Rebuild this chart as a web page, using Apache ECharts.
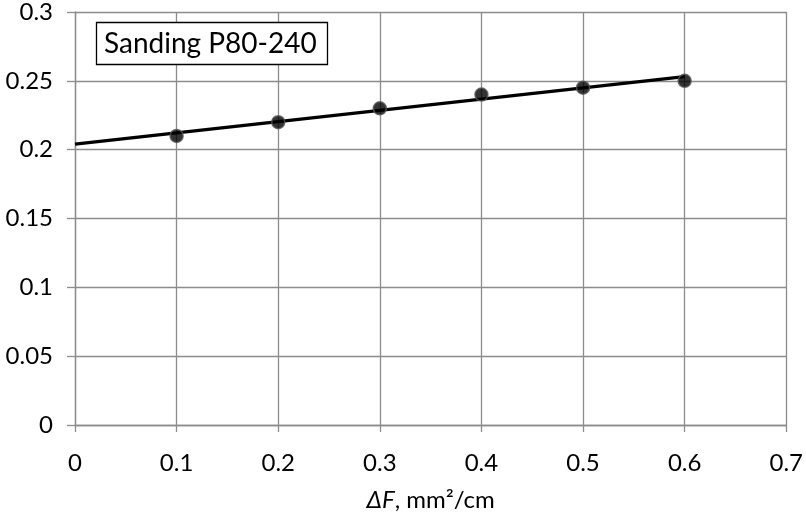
<!DOCTYPE html>
<html>
<head>
<meta charset="utf-8">
<script src="https://cdn.jsdelivr.net/npm/echarts@6/dist/echarts.min.js"></script>
<style>
  html, body { margin: 0; padding: 0; background: #fff; }
  #chart { width: 806px; height: 517px; }
</style>
</head>
<body>
<div id="chart"></div>
<script>
// measured points
const xValues = [0.1, 0.2, 0.3, 0.4, 0.5, 0.6];
const yValues = [0.21, 0.22, 0.23, 0.24, 0.245, 0.25];
// trend line ends
const trendX = [0, 0.6];
const trendY = [0.204, 0.253];
const boxLabel = "Sanding P80-240";

const chart = echarts.init(document.getElementById("chart"));
const font = "Lato, 'Open Sans', sans-serif";
const gridColor = "#8c8c8c";

chart.setOption({
  backgroundColor: "#fff",
  animation: false,
  title: {
    text: boxLabel,
    left: 96,
    top: 22,
    padding: [8, 11, 7, 8],
    borderColor: "#000",
    borderWidth: 1.3,
    backgroundColor: "#fff",
    textStyle: { fontFamily: font, fontSize: 28, fontWeight: "normal", color: "#000" }
  },
  grid: { left: 75, right: 18, top: 11, bottom: 92 },
  xAxis: {
    type: "value",
    min: 0, max: 0.7, interval: 0.1,
    name: "{i|ΔF}{n|, mm²/cm}",
    nameLocation: "middle",
    nameGap: 63,
    nameTextStyle: {
      rich: {
        i: { fontFamily: font, fontSize: 24, fontStyle: "italic", color: "#000" },
        n: { fontFamily: font, fontSize: 24, color: "#000" }
      }
    },
    axisLine: { lineStyle: { color: gridColor, width: 1.3 } },
    axisTick: { show: true, length: 7, lineStyle: { color: gridColor, width: 1.3 } },
    axisLabel: { fontFamily: font, fontSize: 24, color: "#000", margin: 26 },
    splitLine: { lineStyle: { color: gridColor, width: 1.3 } }
  },
  yAxis: {
    type: "value",
    min: 0, max: 0.3, interval: 0.05,
    axisLine: { show: true, lineStyle: { color: gridColor, width: 1.3 } },
    axisTick: { show: true, length: 8, lineStyle: { color: gridColor, width: 1.3 } },
    axisLabel: { fontFamily: font, fontSize: 24, color: "#000", margin: 22 },
    splitLine: { lineStyle: { color: gridColor, width: 1.3 } }
  },
  series: [
    {
      type: "line",
      data: trendX.map((x, i) => [x, trendY[i]]),
      symbol: "none",
      lineStyle: { color: "#000", width: 3.2 },
      z: 2
    },
    {
      type: "scatter",
      data: xValues.map((x, i) => [x, yValues[i]]),
      symbol: "circle",
      symbolSize: 13,
      itemStyle: { color: "#000", borderColor: "#555", borderWidth: 1.5 },
      z: 3
    }
  ]
});
</script>
</body>
</html>
